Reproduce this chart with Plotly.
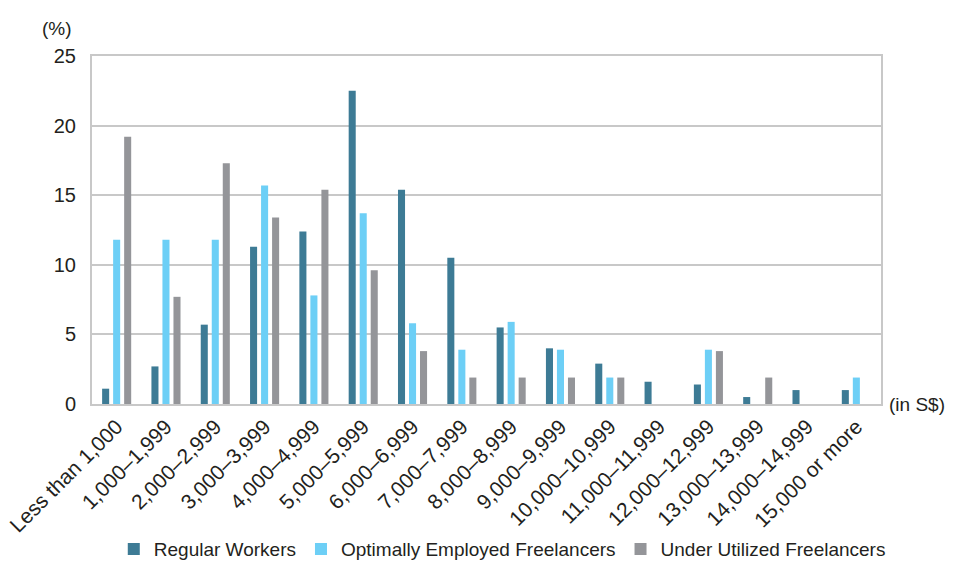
import plotly.graph_objects as go

categories = [
    "Less than 1,000", "1,000–1,999", "2,000–2,999", "3,000–3,999",
    "4,000–4,999", "5,000–5,999", "6,000–6,999", "7,000–7,999",
    "8,000–8,999", "9,000–9,999", "10,000–10,999", "11,000–11,999",
    "12,000–12,999", "13,000–13,999", "14,000–14,999", "15,000 or more",
]
regular_workers = [1.1, 2.7, 5.7, 11.3, 12.4, 22.5, 15.4, 10.5, 5.5, 4.0, 2.9, 1.6, 1.4, 0.5, 1.0, 1.0]
optimally_employed = [11.8, 11.8, 11.8, 15.7, 7.8, 13.7, 5.8, 3.9, 5.9, 3.9, 1.9, 0, 3.9, 0, 0, 1.9]
under_utilized = [19.2, 7.7, 17.3, 13.4, 15.4, 9.6, 3.8, 1.9, 1.9, 1.9, 1.9, 0, 3.8, 1.9, 0, 0]

series = [
    ("Regular Workers", regular_workers, "#3d7b95"),
    ("Optimally Employed Freelancers", optimally_employed, "#6dcff6"),
    ("Under Utilized Freelancers", under_utilized, "#949599"),
]

FONT = "Liberation Sans, Arial, sans-serif"
TEXT = "#231f20"

fig = go.Figure()
for name, vals, color in series:
    fig.add_trace(go.Bar(name=name, x=categories, y=vals, marker_color=color,
                         marker_line_width=0))

fig.update_layout(
    width=954, height=561,
    margin=dict(l=92, r=73, t=56, b=157, autoexpand=False),
    paper_bgcolor="white", plot_bgcolor="white",
    barmode="group", bargap=0.33, bargroupgap=0.36,
    font=dict(family=FONT, size=19, color=TEXT),
    showlegend=True,
    legend=dict(orientation="h", x=0.52, xanchor="center", y=-0.417, yanchor="middle",
                font=dict(size=19, color=TEXT), itemwidth=30, tracegroupgap=0,
                traceorder="normal"),
    xaxis=dict(tickangle=-45, showgrid=False, ticks="", showline=True,
               linecolor="#c8c8c8", linewidth=2, mirror=True, automargin=False,
               tickfont=dict(size=21, color=TEXT)),
    yaxis=dict(range=[0, 25], dtick=5, showgrid=True, gridcolor="#c8c8c8",
               gridwidth=1.5, ticks="", showline=True, linecolor="#c8c8c8",
               linewidth=2, mirror=True, zeroline=False, automargin=False,
               tickfont=dict(size=20, color=TEXT), ticklabelstandoff=10),
    annotations=[
        dict(text="(%)", xref="paper", yref="paper", x=-0.023, y=1.078,
             xanchor="right", yanchor="middle", showarrow=False,
             font=dict(size=19, color=TEXT)),
        dict(text="(in S$)", xref="paper", yref="y", x=1.008, y=0,
             xanchor="left", yanchor="middle", showarrow=False,
             font=dict(size=19, color=TEXT)),
    ],
)

fig.write_html("out.html")
